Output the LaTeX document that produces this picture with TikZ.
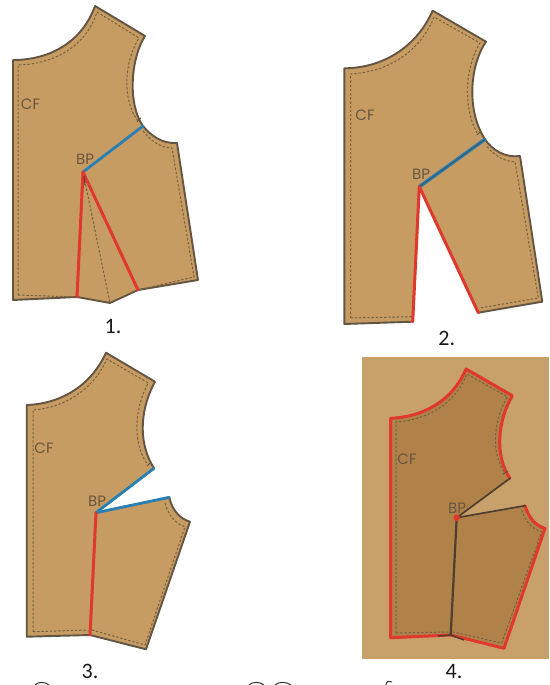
\documentclass[tikz,border=0pt]{standalone}
\usepackage{fontspec}
\setmainfont{Carlito}
\newfontfamily\patfont{Poppins}
\definecolor{cloth}{HTML}{C69C63}
\definecolor{clothdark}{HTML}{B08249}
\definecolor{edge}{HTML}{645543}
\definecolor{seam}{HTML}{76623F}
\definecolor{labelink}{HTML}{6A5640}
\definecolor{redline}{HTML}{E0382C}
\definecolor{blueline}{HTML}{2A80B2}
\definecolor{darkline}{HTML}{4F3E30}
\tikzset{
  piece/.style={fill=cloth,draw=edge,line width=1.9pt,line join=round},
  piecefour/.style={fill=clothdark,draw=none},
  stitch/.style={draw=seam,line width=1pt,dash pattern=on 2.4pt off 1.8pt},
  redseam/.style={draw=redline,line width=3pt,line cap=round},
  blueseam/.style={draw=blueline,line width=2.8pt,line cap=round},
  brownseam/.style={draw=darkline,line width=1.7pt,line cap=round},
  redoutline/.style={draw=redline,line width=3pt,line join=round,line cap=round},
  patlabel/.style={font=\patfont\fontsize{15}{16}\selectfont,text=labelink,inner sep=0pt},
  caption/.style={font=\fontsize{22}{24}\selectfont,text=black!90,inner sep=0pt},
  scrap/.style={draw=black!80,line width=1pt}
}
\begin{document}
\begin{tikzpicture}[x=1pt,y=-1pt]
\useasboundingbox (0,0) rectangle (549,685);
% --- Panel 1
\coordinate (bpa) at (83,172);
\coordinate (nota) at (143,126);
\coordinate (da) at (77,297);
\coordinate (db) at (138,290);
\coordinate (dc) at (110,303);
\draw[piece] (13,60) .. controls (50,60) and (82,42) .. (95,6) -- (145,36)
  .. controls (130,60) and (128,105) .. (nota)
  .. controls (150,135) and (162,144) .. (177,143) -- (198,280) -- (db) -- (dc) -- (da) -- (13,300) -- cycle;
\draw[stitch] (18,295) -- (da);
\draw[stitch] (18,295) -- (18,65) .. controls (55,64) and (86,46) .. (97,12) -- (139,38)
  .. controls (124,62) and (122,100) .. (138,121);
\draw[stitch] (143,131) .. controls (150,140) and (160,148) .. (172,148) -- (194,277) -- (db);
\draw[stitch] (bpa) -- (dc);
\draw[edge,line width=1pt] (137,122) -- (141,118);
\draw[blueseam] (bpa) -- (nota);
\draw[redseam] (bpa) -- (da);
\draw[redseam] (bpa) -- (db);
\draw[darkline,line width=1pt] (bpa) ++(1,4) -- ++(1,9);
\node[patlabel] (cfa) at (30.5,104.5) {CF};
\node[patlabel] (bpla) at (85,159.5) {BP};
\node[caption] (capa) at (113,327) {1.};
% --- Panel 2
\coordinate (bpb) at (419.3,186.7);
\coordinate (notb) at (485,139.3);
\coordinate (ea) at (412.7,321.7);
\coordinate (eb) at (478.3,312.7);
\draw[piece] (344.3,68.3) .. controls (382,68) and (416,48) .. (432.7,10.7) -- (486,41.7)
  .. controls (470,65) and (466,110) .. (notb)
  .. controls (492,150) and (505,158) .. (520,156) -- (542.3,301.7) -- (eb) -- (bpb) -- (ea) -- (344.3,324) -- cycle;
\draw[stitch] (350.5,318) -- (411.7,316.7);
\draw[stitch] (350.5,318) -- (350.5,74) .. controls (388,72) and (420,52) .. (434,17) -- (480,43)
  .. controls (466,65) and (462,105) .. (477,133);
\draw[stitch] (487,146.7) .. controls (494,155) and (505,162) .. (515,161.7) -- (538.3,298) -- (480,308);
\draw[edge,line width=1pt] (477,135) -- (481,131);
\draw[blueseam,line width=3.6pt] (bpb) -- (notb);
\draw[darkline!60!blueline,line width=1pt] (bpb) -- (notb);
\draw[redseam] (bpb) -- (ea);
\draw[redseam] (bpb) -- (eb);
\node[patlabel] (cfb) at (365,115.5) {CF};
\node[patlabel] (bplb) at (421,174) {BP};
\node[caption] (capb) at (446.7,338) {2.};
% --- Panel 3
\coordinate (bpc) at (96,512.7);
\coordinate (notc) at (154,468.3);
\coordinate (notd) at (169.3,497.3);
\coordinate (fa) at (90,635);
\draw[piece] (26.7,405) .. controls (58,404) and (90,388) .. (106,352.7) -- (155,381.7)
  .. controls (142,405) and (136,440) .. (notc) -- (bpc) -- (notd)
  .. controls (172,510) and (180,519) .. (190,521.7) -- (146,649.3) -- (fa) -- (26.7,636.7) -- cycle;
\draw[stitch] (33,631.7) -- (33,410) .. controls (62,408) and (92,392) .. (107,359) -- (148.3,383)
  .. controls (136,405) and (131,440) .. (146.7,463);
\draw[stitch] (165,503) .. controls (168,515) and (176,524) .. (185,526.7) -- (145,645) -- (92,630);
\draw[stitch] (33,631.7) -- (88,630);
\draw[edge,line width=1pt] (147,466) -- (151,462);
\draw[blueseam] (bpc) -- (notc);
\draw[blueseam] (bpc) -- (notd);
\draw[redseam] (bpc) -- (fa);
\node[patlabel] (cfc) at (44,448) {CF};
\node[patlabel] (bplc) at (97,501) {BP};
\node[caption] (capc) at (90,671) {3.};
% --- Panel 4
\fill[cloth!96!white] (362,357) rectangle (549,658.5);
\coordinate (bpd) at (456.7,517.7);
\coordinate (note) at (510,478.3);
\coordinate (notf) at (525,505.7);
\coordinate (ga) at (450.7,635);
\path[piecefour] (390.7,418.3) .. controls (422,417) and (452,402) .. (466,369) -- (512.3,395.7)
  .. controls (498,420) and (494,455) .. (note) -- (bpd) -- (notf)
  .. controls (528,516) and (535,526) .. (545,528.3) -- (504,648.3) -- (ga) -- (390.7,637.7) -- cycle;
\draw[stitch] (396,633) -- (396,422) .. controls (426,420) and (455,405) .. (466.7,374) -- (507.3,396.7)
  .. controls (494,420) and (490,452) .. (505,473);
\draw[stitch] (521.7,510) .. controls (524,520) and (533,530) .. (541.7,531.7) -- (501.7,643) -- (453,632);
\draw[stitch] (396,633) -- (448,632);
\draw[redoutline] (ga) -- (390.7,637.7) -- (390.7,418.3) .. controls (422,417) and (452,402) .. (466,369) -- (512.3,395.7)
  .. controls (498,420) and (494,455) .. (note);
\draw[redoutline] (notf) .. controls (528,516) and (535,526) .. (545,528.3) -- (504,648.3) -- (ga);
\draw[brownseam] (bpd) -- (note);
\draw[brownseam] (bpd) -- (notf);
\draw[darkline,line width=2.2pt,line cap=round] (bpd) -- (ga);
\draw[darkline,line width=1.4pt] (438,636) -- (ga) -- (464,640);
\draw[edge,line width=1pt] (503,474) -- (508,471);
\fill[redline] (bpd) circle (3.3pt);
\node[patlabel] (cfd) at (407,459) {CF};
\node[patlabel] (bpld) at (457,508) {BP};
\node[caption] (capd) at (454,672) {4.};
% --- clipped tops of the letters at the page foot
\draw[scrap] (35,685) .. controls (38,681.5) and (45,681.5) .. (49,685);
\draw[scrap] (249,685) .. controls (252,681.5) and (260,681.5) .. (264,685);
\draw[scrap] (275,685) .. controls (278,681.5) and (287,681.5) .. (291,685);
\draw[scrap] (386,685) .. controls (386,681) and (389,681) .. (392,682);
\end{tikzpicture}
\end{document}
